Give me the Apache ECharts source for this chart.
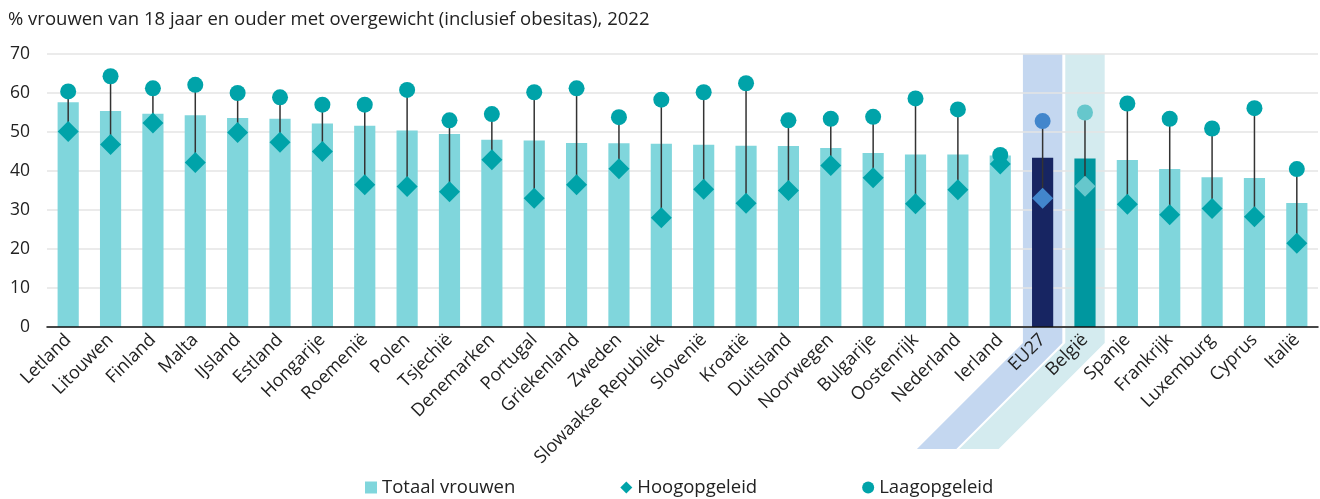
<!DOCTYPE html>
<html>
<head>
<meta charset="utf-8">
<script src="https://cdn.jsdelivr.net/npm/echarts@6/dist/echarts.min.js"></script>
<style>
  html, body { margin: 0; padding: 0; background: #fff; }
  #chart { width: 1320px; height: 499px; }
</style>
</head>
<body>
<div id="chart"></div>
<script>
const countries = ['Letland', 'Litouwen', 'Finland', 'Malta', 'IJsland', 'Estland', 'Hongarije', 'Roemenië',
  'Polen', 'Tsjechië', 'Denemarken', 'Portugal', 'Griekenland', 'Zweden', 'Slowaakse Republiek', 'Slovenië',
  'Kroatië', 'Duitsland', 'Noorwegen', 'Bulgarije', 'Oostenrijk', 'Nederland', 'Ierland', 'EU27', 'België',
  'Spanje', 'Frankrijk', 'Luxemburg', 'Cyprus', 'Italië'];

const totaal = [57.6, 55.4, 54.7, 54.3, 53.6, 53.4, 52.2, 51.6, 50.4, 49.5, 48.0, 47.8, 47.2, 47.1, 47.0, 46.7,
  46.5, 46.4, 45.9, 44.6, 44.2, 44.2, 44.0, 43.4, 43.2, 42.8, 40.5, 38.4, 38.2, 31.8];
const hoog = [50.1, 46.8, 52.3, 42.2, 49.9, 47.4, 45.0, 36.5, 36.0, 34.7, 42.9, 33.0, 36.5, 40.6, 28.0, 35.3,
  31.7, 35.0, 41.4, 38.3, 31.6, 35.2, 41.8, 33.0, 36.1, 31.5, 28.8, 30.4, 28.3, 21.5];
const laag = [60.4, 64.3, 61.2, 62.1, 60.0, 58.9, 57.0, 57.0, 60.8, 53.0, 54.6, 60.2, 61.2, 53.8, 58.3, 60.2,
  62.5, 53.0, 53.4, 53.9, 58.6, 55.8, 44.1, 52.8, 55.0, 57.3, 53.4, 50.9, 56.1, 40.5];

const yTicks = [0, 10, 20, 30, 40, 50, 60, 70];

// colours per highlighted category
const highlight = {
  'EU27':   { bar: '#172562', marker: '#4286cc', band: '#c4d7f0' },
  'België': { bar: '#00979f', marker: '#66c7cc', band: '#d4ebef' }
};
const barColor = '#80d6dc';
const markerColor = '#00a3a9';

const chart = echarts.init(document.getElementById('chart'));

const barData = totaal.map((v, i) => {
  const h = highlight[countries[i]];
  return h ? { value: v, itemStyle: { color: h.bar } } : v;
});
const hoogData = hoog.map((v, i) => {
  const h = highlight[countries[i]];
  return h ? { value: v, itemStyle: { color: h.marker } } : v;
});
const laagData = laag.map((v, i) => {
  const h = highlight[countries[i]];
  return h ? { value: v, itemStyle: { color: h.marker } } : v;
});
const bandData = countries
  .map((c, i) => highlight[c] ? [i, highlight[c].band] : null)
  .filter(d => d);

const option = {
  animation: false,
  textStyle: { fontFamily: 'Open Sans' },
  title: {
    text: '% vrouwen van 18 jaar en ouder met overgewicht (inclusief obesitas), 2022',
    left: 3,
    top: 5,
    textStyle: { fontFamily: 'Open Sans', fontSize: 18.5, fontWeight: 'normal', color: '#222' }
  },
  legend: {
    top: 473,
    left: 360,
    itemGap: 105,
    itemWidth: 12,
    itemHeight: 12,
    textStyle: { fontFamily: 'Open Sans', fontSize: 18.5, color: '#222' },
    data: [
      { name: 'Totaal vrouwen', icon: 'rect' },
      { name: 'Hoogopgeleid', icon: 'diamond' },
      { name: 'Laagopgeleid', icon: 'circle' }
    ]
  },
  grid: { left: 47, right: 2, top: 54, bottom: 172 },
  xAxis: {
    type: 'category',
    data: countries,
    z: 5,
    axisLine: { lineStyle: { color: '#111', width: 1.5 } },
    axisTick: { show: false },
    axisLabel: {
      interval: 0,
      rotate: 45,
      margin: 10,
      fontFamily: 'Open Sans',
      fontSize: 18,
      color: '#222'
    }
  },
  yAxis: {
    type: 'value',
    min: yTicks[0],
    max: yTicks[yTicks.length - 1],
    interval: 10,
    z: 1,
    axisLine: { show: false },
    axisTick: { show: false },
    splitLine: { lineStyle: { color: '#e4e4e4', width: 1.5 } },
    axisLabel: { margin: 17, fontFamily: 'Open Sans', fontSize: 17.5, color: '#222' }
  },
  series: [
    {
      // highlight bands for EU27 and België, running down past the labels
      type: 'custom',
      name: 'band',
      z: 0,
      silent: true,
      clip: false,
      data: bandData,
      renderItem: (params, api) => {
        const idx = api.value(0);
        const color = bandData[params.dataIndex][1];
        const base = api.coord([idx, 0]);
        const top = api.coord([idx, yTicks[yTicks.length - 1]]);
        const w = api.size([1, 0])[0] * 0.93;
        const l = base[0] - w / 2, r = base[0] + w / 2;
        const y1 = base[1] + 16, slant = 106;
        return {
          type: 'polygon',
          shape: {
            points: [[l, top[1]], [r, top[1]], [r, y1], [r - slant, y1 + slant],
                     [l - slant, y1 + slant], [l, y1]]
          },
          style: { fill: color }
        };
      }
    },
    {
      type: 'bar',
      name: 'Totaal vrouwen',
      data: barData,
      barWidth: '50%',
      z: 2,
      itemStyle: { color: barColor }
    },
    {
      // verbindingslijn tussen laag- en hoogopgeleid
      type: 'custom',
      name: 'lijn',
      z: 3,
      silent: true,
      data: countries.map((c, i) => [i, laag[i], hoog[i]]),
      renderItem: (params, api) => {
        const p1 = api.coord([api.value(0), api.value(1)]);
        const p2 = api.coord([api.value(0), api.value(2)]);
        return {
          type: 'line',
          shape: { x1: p1[0], y1: p1[1], x2: p2[0], y2: p2[1] },
          style: { stroke: '#333', lineWidth: 1.5 }
        };
      }
    },
    {
      type: 'scatter',
      name: 'Hoogopgeleid',
      symbol: 'diamond',
      symbolSize: 21,
      z: 4,
      data: hoogData,
      itemStyle: { color: markerColor, opacity: 1 }
    },
    {
      type: 'scatter',
      name: 'Laagopgeleid',
      symbol: 'circle',
      symbolSize: 16,
      z: 4,
      data: laagData,
      itemStyle: { color: markerColor, opacity: 1 }
    }
  ]
};

chart.setOption(option);
</script>
</body>
</html>
